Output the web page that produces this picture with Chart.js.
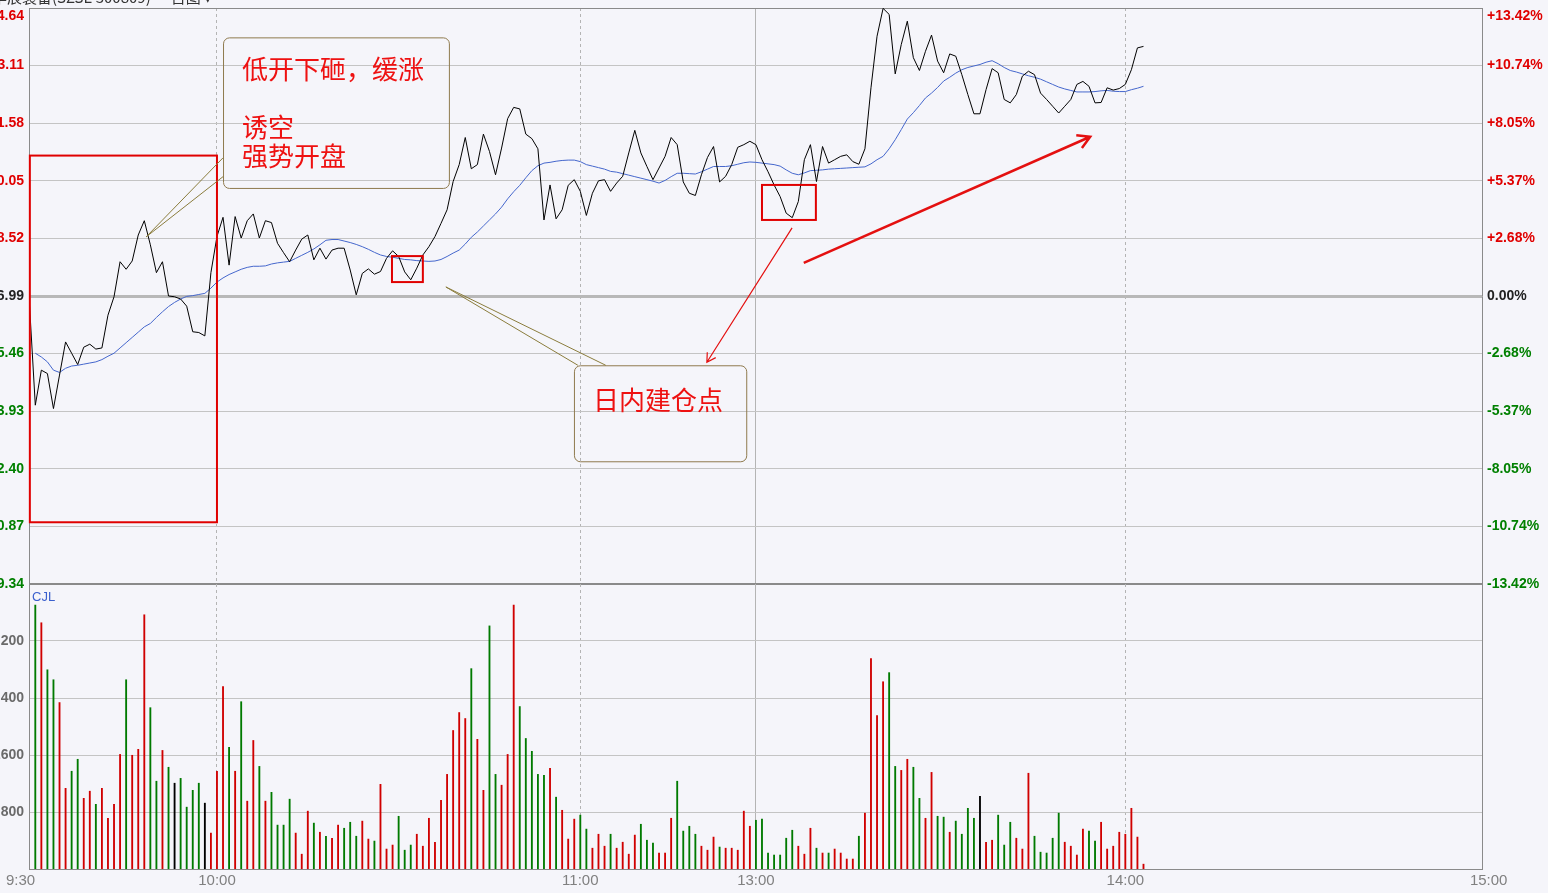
<!DOCTYPE html>
<html lang="zh-CN">
<head>
<meta charset="utf-8">
<title>华辰装备 分时</title>
<script src="https://cdn.jsdelivr.net/npm/chart.js@4.4.1/dist/chart.umd.min.js"></script>
<style>
  html, body { margin: 0; padding: 0; background: #f5f5fa; overflow: hidden; }
  #wrap { position: relative; width: 1548px; height: 893px; }
  canvas { position: absolute; left: 0; }
  #price-chart { top: 0; }
  #volume-chart { top: 584px; }
</style>
</head>
<body>
<div id="wrap">
  <canvas id="price-chart" width="1548" height="600"></canvas>
  <canvas id="volume-chart" width="1548" height="309"></canvas>
</div>
<script>
// 昨收价
const prevClose = 56.99;

// 左侧价格刻度（右侧按昨收折算涨跌幅）
const priceTicks = [49.34, 50.87, 52.40, 53.93, 55.46, 56.99, 58.52, 60.05, 61.58, 63.11, 64.64];

// 成交量刻度
const volumeTicks = [800, 1600, 2400, 3200];

// 时间刻度，按分钟序号（9:30 = 0，午休合并）
const timeTicks = [0, 30, 90, 119, 180, 240];
const timeLabels = ['9:30', '10:00', '11:00', '13:00', '14:00', '15:00'];

// 分时价格，第一个是开盘集合竞价（序号 -1）
const prices = [
  56.88, 54.09, 55.02, 54.93, 54.00, 54.89, 55.77, 55.47, 55.17, 55.63,
  55.71, 55.58, 55.61, 56.48, 56.97, 57.90, 57.70, 57.92, 58.61, 58.99,
  58.35, 57.61, 57.90, 56.99, 56.97, 56.91, 56.72, 56.04, 56.02, 55.93,
  57.61, 58.57, 59.08, 57.81, 59.10, 58.53, 58.99, 59.17, 58.53, 58.99,
  58.94, 58.39, 58.14, 57.90, 58.21, 58.50, 58.61, 57.95, 58.26, 57.97,
  58.21, 58.26, 58.26, 57.68, 57.02, 57.59, 57.71, 57.57, 57.64, 57.99,
  58.19, 58.04, 57.63, 57.42, 57.73, 58.08, 58.30, 58.57, 58.92, 59.28,
  60.03, 60.48, 61.20, 60.37, 60.48, 61.29, 60.83, 60.21, 60.92, 61.70,
  62.00, 61.96, 61.29, 61.17, 60.90, 59.01, 59.94, 59.04, 59.28, 59.93,
  60.08, 59.77, 59.13, 59.72, 60.05, 60.08, 59.77, 59.99, 60.17, 60.79,
  61.39, 60.79, 60.43, 60.08, 60.39, 60.70, 61.20, 61.01, 60.02, 59.72,
  59.66, 60.21, 60.67, 60.96, 60.02, 60.17, 60.48, 60.94, 61.01, 61.10,
  61.01, 60.61, 60.29, 59.94, 59.63, 59.19, 59.07, 59.50, 60.61, 61.01,
  60.03, 60.96, 60.52, 60.61, 60.70, 60.74, 60.56, 60.49, 60.90, 62.52,
  63.89, 64.63, 64.47, 62.89, 63.67, 64.29, 63.32, 62.98, 63.49, 63.92,
  63.23, 62.92, 63.42, 63.36, 62.87, 62.34, 61.83, 61.83, 62.47, 63.03,
  62.92, 62.21, 62.12, 62.34, 62.83, 62.96, 62.87, 62.38, 62.21, 62.03,
  61.85, 62.03, 62.21, 62.61, 62.69, 62.56, 62.12, 62.13, 62.52, 62.46,
  62.50, 62.61, 63.00, 63.58, 63.62
];

// 均价线
const avgPrices = [
  55.47, 55.37, 55.24, 55.02, 54.96, 55.07, 55.13, 55.15, 55.18, 55.21,
  55.24, 55.30, 55.39, 55.47, 55.61, 55.75, 55.89, 56.03, 56.17, 56.26,
  56.42, 56.57, 56.71, 56.82, 56.91, 56.98, 57.00, 57.03, 57.06, 57.20,
  57.36, 57.47, 57.56, 57.63, 57.70, 57.75, 57.78, 57.78, 57.79, 57.84,
  57.87, 57.89, 57.91, 57.99, 58.07, 58.15, 58.24, 58.35, 58.47, 58.49,
  58.49, 58.45, 58.41, 58.36, 58.30, 58.23, 58.15, 58.08, 58.04, 58.02,
  57.99, 57.96, 57.95, 57.93, 57.92, 57.91, 57.92, 57.96, 58.04, 58.13,
  58.21, 58.37, 58.55, 58.69, 58.85, 59.01, 59.17, 59.35, 59.57, 59.76,
  59.93, 60.13, 60.32, 60.45, 60.52, 60.54, 60.57, 60.59, 60.60, 60.60,
  60.56, 60.48, 60.44, 60.40, 60.36, 60.30, 60.28, 60.24, 60.20, 60.16,
  60.12, 60.08, 60.04, 59.99, 60.06, 60.16, 60.25, 60.25, 60.24, 60.23,
  60.29, 60.36, 60.43, 60.43, 60.43, 60.45, 60.49, 60.53, 60.55, 60.54,
  60.52, 60.50, 60.48, 60.44, 60.34, 60.25, 60.21, 60.26, 60.32, 60.33,
  60.34, 60.36, 60.37, 60.38, 60.39, 60.40, 60.41, 60.42, 60.50, 60.61,
  60.70, 60.90, 61.14, 61.41, 61.69, 61.86, 62.05, 62.25, 62.38, 62.53,
  62.70, 62.80, 62.91, 63.00, 63.06, 63.10, 63.14, 63.20, 63.24, 63.16,
  63.06, 62.98, 62.94, 62.89, 62.84, 62.80, 62.75, 62.68, 62.61, 62.54,
  62.49, 62.45, 62.41, 62.41, 62.41, 62.42, 62.44, 62.45, 62.43, 62.42,
  62.42, 62.47, 62.51, 62.56
];

// 每分钟成交量（CJL）
const volumes = [
  3704, 3456, 2796, 2656, 2336, 1132, 1372, 1540, 992, 1092,
  908, 1132, 712, 908, 1608, 2656, 1596, 1680, 3568, 2264,
  1232, 1664, 1428, 1204, 1272, 868, 1104, 1204, 924, 504,
  1372, 2560, 1708, 1372, 2348, 952, 1804, 1440, 952, 1076,
  616, 616, 980, 504, 208, 812, 644, 516, 460, 432,
  616, 572, 656, 460, 672, 420, 392, 1188, 280, 336,
  740, 264, 336, 488, 320, 712, 376, 964, 1328, 1944,
  2196, 2112, 2812, 1820, 1104, 3412, 1328, 1176, 1608, 3704,
  2280, 1832, 1652, 1328, 1316, 1412, 1008, 824, 420, 700,
  756, 560, 292, 488, 320, 488, 292, 376, 208, 476,
  628, 404, 364, 224, 224, 712, 1232, 532, 600, 488,
  320, 264, 448, 308, 292, 292, 264, 812, 600, 684,
  700, 224, 196, 196, 432, 544, 320, 208, 572, 292,
  224, 224, 280, 224, 140, 140, 460, 784, 2952, 2152,
  2628, 2756, 1440, 1384, 1540, 1428, 992, 712, 1356, 740,
  728, 516, 672, 488, 852, 712, 1020, 376, 404, 756,
  336, 656, 432, 280, 1344, 460, 236, 224, 432, 784,
  376, 320, 196, 560, 532, 392, 656, 280, 320, 516,
  488, 852, 448, 68
];

// 成交量方向：r 上涨，g 下跌，k 平盘
const volumeSides =
  'grggrrggrr' + 'grrrrgrrrg' + 'grgkggggkr' + 'rrgrgrrgrg' + 'gggrrrgrgr' +
  'rgggrrgrrr' + 'gggrrrrrrr' + 'rrgrrggrrr' + 'gggggrgrrr' + 'ggrrrgrrrr' +
  'gggrrrgggg' + 'rrrgrrrrrg' + 'ggggggrrrg' + 'rgrrrrgrrr' + 'rggrrggrrg' +
  'grggggkrrg' + 'ggrrrggggg' + 'rrrrggrrrr' + 'rrrr';

// 图上标注（数据坐标）
const markBoxes = [
  { x0: -0.9, x1: 30, y0: 60.72, y1: 50.98 },
  { x0: 58.9, x1: 64.0, y0: 58.05, y1: 57.36 },
  { x0: 120.0, x1: 128.9, y0: 59.94, y1: 59.01 }
];
const markArrows = [
  { from: [124.97, 58.80], to: [110.9, 55.23], width: 1.2, head: 10 },
  { from: [126.9, 57.87], to: [174.2, 61.22], width: 2.5, head: 14 }
];
const callouts = [
  {
    x0: 31.0, x1: 68.3, y0: 63.86, y1: 59.86,
    tip: [18.3, 58.56], base: [[31.0, 60.66], [31.0, 60.16]],
    lines: ['低开下砸，缓涨', '', '诱空', '强势开盘'], top: 32
  },
  {
    x0: 88.95, x1: 117.4, y0: 55.15, y1: 52.60,
    tip: [67.8, 57.23], base: [[89.6, 55.15], [94.2, 55.15]],
    lines: ['日内建仓点'], top: 35
  }
];

const RED = '#e00000';
const GREEN = '#008000';
const sideColors = { r: '#d00000', g: '#007a00', k: '#000000' };
const X_MIN = -1.04;
const X_MAX = 238.9;

function labelColor(v) {
  if (v > prevClose + 0.001) return RED;
  if (v < prevClose - 0.001) return GREEN;
  return '#222';
}

// 时间轴：两个图共用
function timeAxis(showBorder) {
  return {
    type: 'linear',
    offset: false,
    min: X_MIN,
    max: X_MAX,
    afterBuildTicks: s => { s.ticks = timeTicks.slice(1, -1).map(v => ({ value: v })); },
    afterFit: s => { s.height = 0; s.paddingLeft = 0; s.paddingRight = 0; },
    ticks: { display: false },
    grid: { color: '#b4b4b4', drawTicks: false, offset: false },
    border: {
      display: !!showBorder,
      color: '#8a8a8a',
      dash: ctx => (ctx.tick && ctx.tick.value === 119 ? [] : [3, 3])
    }
  };
}

function roundRect(ctx, x, y, w, h, r) {
  ctx.beginPath();
  ctx.moveTo(x + r, y);
  ctx.arcTo(x + w, y, x + w, y + h, r);
  ctx.arcTo(x + w, y + h, x, y + h, r);
  ctx.arcTo(x, y + h, x, y, r);
  ctx.arcTo(x, y, x + w, y, r);
  ctx.closePath();
}

// 最上面的刻度文字压在边框下面一点
const topLabelPlugin = {
  id: 'topLabel',
  beforeDraw(chart) {
    ['y', 'y2'].forEach(id => {
      const s = chart.scales[id];
      const items = s.getLabelItems();
      const top = items[items.length - 1];
      if (top) top.options.translation[1] = Math.max(top.options.translation[1], s.top + 8);
    });
  }
};

// 标注插件：红框、箭头、说明框
const notesPlugin = {
  id: 'notes',
  afterDatasetsDraw(chart) {
    const { ctx, scales: { x, y } } = chart;
    const px = v => x.getPixelForValue(v);
    const py = v => y.getPixelForValue(v);
    ctx.save();

    ctx.strokeStyle = RED;
    ctx.lineWidth = 2;
    markBoxes.forEach(b => {
      ctx.strokeRect(px(b.x0), py(b.y0), px(b.x1) - px(b.x0), py(b.y1) - py(b.y0));
    });

    markArrows.forEach(a => {
      const x1 = px(a.from[0]), y1 = py(a.from[1]);
      const x2 = px(a.to[0]), y2 = py(a.to[1]);
      const ang = Math.atan2(y2 - y1, x2 - x1);
      ctx.lineWidth = a.width;
      ctx.strokeStyle = '#e41010';
      ctx.beginPath();
      ctx.moveTo(x1, y1);
      ctx.lineTo(x2, y2);
      ctx.moveTo(x2 - a.head * Math.cos(ang - Math.PI / 6), y2 - a.head * Math.sin(ang - Math.PI / 6));
      ctx.lineTo(x2, y2);
      ctx.lineTo(x2 - a.head * Math.cos(ang + Math.PI / 6), y2 - a.head * Math.sin(ang + Math.PI / 6));
      ctx.stroke();
    });

    callouts.forEach(c => {
      const left = px(c.x0), top = py(c.y0);
      const w = px(c.x1) - left, h = py(c.y1) - top;
      ctx.lineWidth = 1;
      ctx.strokeStyle = '#8f7a4e';
      roundRect(ctx, left + 0.5, top + 0.5, w, h, 6);
      ctx.stroke();

      ctx.strokeStyle = '#8a7c3c';
      ctx.beginPath();
      c.base.forEach(b => {
        ctx.moveTo(px(c.tip[0]), py(c.tip[1]));
        ctx.lineTo(px(b[0]), py(b[1]));
      });
      ctx.stroke();

      ctx.fillStyle = '#ee1111';
      ctx.font = '26px "Noto Sans CJK SC", sans-serif';
      ctx.textAlign = 'left';
      ctx.textBaseline = 'middle';
      c.lines.forEach((t, i) => {
        if (t) ctx.fillText(t, left + 19, top + c.top + i * 29);
      });
    });

    ctx.restore();
  },
  afterDraw(chart) {
    // 顶部标题，大部分被窗口截掉
    const { ctx } = chart;
    ctx.save();
    ctx.fillStyle = '#333';
    ctx.font = '15px "Noto Sans CJK SC", sans-serif';
    ctx.textBaseline = 'alphabetic';
    ctx.fillText('华辰装备(SZSE 300809) — 日图 ▾', -8, 3);
    ctx.restore();
  }
};

// 成交量图的附加文字：CJL 和时间标签
const volumeTextPlugin = {
  id: 'volumeText',
  afterDraw(chart) {
    const { ctx, chartArea, scales: { x } } = chart;
    ctx.save();
    ctx.fillStyle = '#3a5fcd';
    ctx.font = '13px "Liberation Sans", Arial, sans-serif';
    ctx.textBaseline = 'alphabetic';
    ctx.textAlign = 'left';
    ctx.fillText('CJL', chartArea.left + 3, 17);

    ctx.fillStyle = '#808080';
    ctx.font = '15px "Liberation Sans", Arial, sans-serif';
    ctx.textBaseline = 'middle';
    timeTicks.forEach((v, i) => {
      const first = i === 0;
      ctx.textAlign = first ? 'left' : 'center';
      ctx.fillText(timeLabels[i], first ? 6 : x.getPixelForValue(v), chartArea.bottom + 12);
    });
    ctx.restore();
  }
};

const labelFont = { family: '"Liberation Sans", Arial, sans-serif', size: 14, weight: 'bold' };

document.addEventListener('DOMContentLoaded', function () {
  // 价格图
  new Chart(document.getElementById('price-chart'), {
    type: 'line',
    data: {
      datasets: [
        {
          label: '价格',
          data: prices.map((p, i) => ({ x: i - 1, y: p })),
          borderColor: '#000000',
          borderWidth: 1,
          pointRadius: 0,
          tension: 0
        },
        {
          label: '均价',
          data: avgPrices.map((p, i) => ({ x: i, y: p })),
          borderColor: '#4466cc',
          borderWidth: 1,
          pointRadius: 0,
          tension: 0
        }
      ]
    },
    options: {
      responsive: false,
      animation: false,
      devicePixelRatio: 1,
      events: [],
      layout: { padding: { top: 8, bottom: 16, left: 0, right: 0 } },
      plugins: { legend: { display: false }, tooltip: { enabled: false } },
      scales: {
        x: timeAxis(false),
        y: {
          position: 'left',
          min: 49.34,
          max: 64.64,
          afterBuildTicks: s => { s.ticks = priceTicks.map(v => ({ value: v })); },
          afterFit: s => { s.width = 29; s.paddingTop = 0; s.paddingBottom = 0; },
          ticks: {
            font: labelFont,
            padding: 5,
            color: ctx => labelColor(ctx.tick.value),
            callback: v => v.toFixed(2)
          },
          grid: {
            drawTicks: false,
            color: ctx => {
              const v = ctx.tick.value;
              if (Math.abs(v - prevClose) < 0.001) return '#b8b8b8';
              if (v === 49.34 || v === 64.64) return '#8a8a8a';
              return '#c4c4c4';
            },
            lineWidth: ctx => {
              const v = ctx.tick.value;
              if (Math.abs(v - prevClose) < 0.001) return 3;
              if (v === 49.34) return 2;
              return 1;
            }
          },
          border: { color: '#8a8a8a' }
        },
        y2: {
          position: 'right',
          min: 49.34,
          max: 64.64,
          afterBuildTicks: s => { s.ticks = priceTicks.map(v => ({ value: v })); },
          afterFit: s => { s.width = 66; s.paddingTop = 0; s.paddingBottom = 0; },
          ticks: {
            font: labelFont,
            padding: 5,
            color: ctx => labelColor(ctx.tick.value),
            callback: v => {
              const pct = (v / prevClose - 1) * 100;
              const s = Math.abs(pct).toFixed(2) + '%';
              if (pct > 0.001) return '+' + s;
              if (pct < -0.001) return '-' + s;
              return '0.00%';
            }
          },
          grid: { drawOnChartArea: false, drawTicks: false },
          border: { color: '#8a8a8a' }
        }
      }
    },
    plugins: [topLabelPlugin, notesPlugin]
  });

  // 成交量图
  new Chart(document.getElementById('volume-chart'), {
    type: 'bar',
    data: {
      datasets: [{
        label: 'CJL',
        data: volumes.map((v, i) => ({ x: i, y: v })),
        backgroundColor: volumes.map((v, i) => sideColors[volumeSides[i]]),
        barThickness: 1.2,
        borderWidth: 0
      }]
    },
    options: {
      responsive: false,
      animation: false,
      devicePixelRatio: 1,
      events: [],
      layout: { padding: { top: 0, bottom: 24, left: 0, right: 0 } },
      plugins: { legend: { display: false }, tooltip: { enabled: false } },
      scales: {
        x: timeAxis(true),
        y: {
          position: 'left',
          min: 0,
          max: 4000,
          afterBuildTicks: s => { s.ticks = volumeTicks.map(v => ({ value: v })); },
          afterFit: s => { s.width = 29; s.paddingTop = 0; s.paddingBottom = 0; },
          ticks: { font: labelFont, padding: 5, color: '#6a6a6a', callback: v => String(v) },
          grid: { drawTicks: false, color: '#c4c4c4' },
          border: { color: '#8a8a8a' }
        },
        y2: {
          position: 'right',
          min: 0,
          max: 4000,
          afterBuildTicks: s => { s.ticks = volumeTicks.map(v => ({ value: v })); },
          afterFit: s => { s.width = 66; s.paddingTop = 0; s.paddingBottom = 0; },
          ticks: { display: false },
          grid: { drawOnChartArea: false, drawTicks: false },
          border: { color: '#8a8a8a' }
        }
      }
    },
    plugins: [volumeTextPlugin]
  });
});
</script>
</body>
</html>
